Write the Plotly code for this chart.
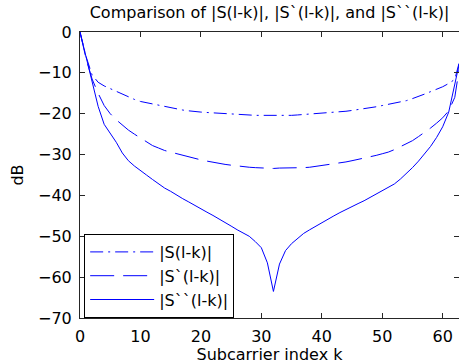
import plotly.graph_objects as go

k = list(range(64))

s0 = [0, -6, -10.5, -12.3, -13.2, -13.9, -14.6, -15.3, -16.0, -16.5,
      -17.0, -17.3, -17.7, -18.0, -18.3, -18.6, -18.9, -19.1, -19.3, -19.5,
      -19.6, -19.7, -19.8, -19.9, -20.0, -20.1, -20.2, -20.3, -20.3, -20.4,
      -20.4, -20.4, -20.5, -20.4, -20.4, -20.4, -20.3, -20.2, -20.1, -20.0,
      -19.9, -19.8, -19.7, -19.6, -19.4, -19.2, -19.0, -18.8, -18.6, -18.3,
      -18.0, -17.7, -17.4, -17.1, -16.8, -16.3, -15.8, -15.2, -14.6, -14.0,
      -13.4, -12.6, -11.6, -6]

s1 = [0, -6.5, -11.5, -15, -18, -20, -21.5, -22.8, -24.0, -25.0,
      -26.0, -27.0, -27.8, -28.4, -29.0, -29.4, -29.8, -30.2, -30.6, -31.0,
      -31.3, -31.6, -31.9, -32.2, -32.4, -32.6, -32.8, -33.0, -33.1, -33.2,
      -33.3, -33.3, -33.4, -33.3, -33.3, -33.3, -33.2, -33.2, -33.1, -32.9,
      -32.7, -32.5, -32.3, -32.1, -31.8, -31.5, -31.2, -30.9, -30.6, -30.2,
      -29.8, -29.4, -28.8, -28.1, -27.4, -26.6, -25.6, -24.6, -23.5, -22.3,
      -21.0, -19.3, -16.0, -6.5]

s2 = [0, -6, -12, -18.2, -22.6, -24.8, -27, -29.6, -31.5, -32.8,
      -34.0, -35.0, -36.1, -37.2, -38.2, -39.0, -40.0, -40.8, -41.6, -42.5,
      -43.3, -44.1, -44.9, -45.7, -46.5, -47.5, -48.4, -49.2, -50.0, -51.3,
      -52.8, -56.5, -63.5, -56.8, -53.5, -51.8, -50.5, -49.3, -48.4, -47.5,
      -46.6, -45.8, -45.0, -44.2, -43.4, -42.7, -42.0, -41.3, -40.5, -39.8,
      -39.0, -38.2, -37.2, -36.0, -34.7, -33.2, -31.6, -29.8, -28.0, -25.8,
      -23.2, -19.6, -12.5, -6]

names = ["|S(l-k)|", "|S`(l-k)|", "|S``(l-k)|"]
dashes = ["13px,5px,2px,5px", "24px,9px", "solid"]
series = [s0, s1, s2]

fig = go.Figure()
for i, (y, nm, d) in enumerate(zip(series, names, dashes)):
    fig.add_trace(go.Scatter(x=k, y=y, mode="lines", name=nm, legendgroup=f"g{i}",
                             line=dict(color="#0000FF", width=1, dash=d)))

axis_common = dict(showline=True, linecolor="#262626", linewidth=1, mirror="ticks",
                   ticks="inside", ticklen=5, tickcolor="#262626", showgrid=False,
                   zeroline=False, tickfont=dict(size=16, color="#000000"),
                   ticklabelstandoff=4)

fig.update_layout(
    width=459, height=364,
    margin=dict(l=80, r=0, t=32, b=46),
    paper_bgcolor="white", plot_bgcolor="white",
    font=dict(family="DejaVu Sans, sans-serif", size=16, color="#000000"),
    title=dict(text="Comparison of |S(l-k)|, |S`(l-k)|, and |S``(l-k)|",
               x=0.5, xref="paper", xanchor="center", y=0.965, yanchor="middle",
               font=dict(size=16)),
    xaxis=dict(range=[0, 62.7], tickvals=[0, 10, 20, 30, 40, 50, 60],
               title=dict(text="Subcarrier index k", standoff=5, font=dict(size=16)),
               **axis_common),
    yaxis=dict(range=[-70, 0], tickvals=[0, -10, -20, -30, -40, -50, -60, -70],
               title=dict(text="dB", standoff=10, font=dict(size=16)),
               **axis_common),
    showlegend=True,
    legend=dict(x=0.011, y=0.0, xanchor="left", yanchor="bottom",
                bgcolor="white", bordercolor="#000000", borderwidth=1,
                font=dict(size=16), itemwidth=64, tracegroupgap=6,
                traceorder="normal"),
)

fig.write_html("out.html")
